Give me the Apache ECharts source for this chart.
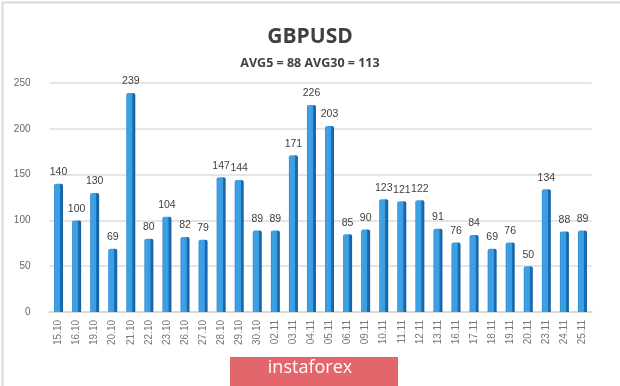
<!DOCTYPE html>
<html><head><meta charset="utf-8">
<script src="https://cdn.jsdelivr.net/npm/echarts@6/dist/echarts.min.js"></script>
<style>html,body{margin:0;padding:0;background:#fff}#c{width:620px;height:386px}</style>
</head><body><div id="c"></div>
<script>
const categories = ['15.10','16.10','19.10','20.10','21.10','22.10','23.10','26.10','27.10','28.10','29.10','30.10','02.11','03.11','04.11','05.11','06.11','09.11','10.11','11.11','12.11','13.11','16.11','17.11','18.11','19.11','20.11','23.11','24.11','25.11'];
const values = [140,100,130,69,239,80,104,82,79,147,144,89,89,171,226,203,85,90,123,121,122,91,76,84,69,76,50,134,88,89];
const yTicks = [0,50,100,150,200,250];
const titleText = 'GBPUSD';
const subtitleText = 'AVG5 = 88 AVG30 = 113';
const badgeText = 'instaforex';

const chart = echarts.init(document.getElementById('c'));
chart.setOption({
  backgroundColor: '#fff',
  animation: false,
  title: {
    text: titleText, subtext: subtitleText, left: 'center', top: 22, itemGap: 9,
    textStyle: {fontFamily: 'Open Sans', fontSize: 21, fontWeight: 'bold', color: '#404040'},
    subtextStyle: {fontFamily: 'Open Sans', fontSize: 12.5, fontWeight: 'bold', color: '#404040'}
  },
  grid: {left: 49.5, right: 28.5, top: 83, bottom: 74, containLabel: false},
  xAxis: {
    type: 'category', data: categories,
    axisLine: {show: true, lineStyle: {color: '#d9d9d9', width: 2}},
    axisTick: {show: false},
    axisLabel: {rotate: 90, interval: 0, color: '#777', fontFamily: 'Liberation Sans', fontSize: 10, margin: 8}
  },
  yAxis: {
    type: 'value', min: 0, max: 250, interval: 50,
    axisLine: {show: false}, axisTick: {show: false},
    axisLabel: {color: '#666', fontFamily: 'Liberation Sans', fontSize: 10, margin: 19,
      formatter: v => yTicks.includes(v) ? String(v) : ''},
    splitLine: {lineStyle: {color: '#dcdcdc', width: 1.5}}
  },
  series: [{
    type: 'bar', data: values, barWidth: 9,
    itemStyle: {
      color: new echarts.graphic.LinearGradient(0, 0, 1, 0, [
        {offset: 0, color: '#2a86cf'},
        {offset: 0.15, color: '#3fa2e6'},
        {offset: 0.65, color: '#3a9de2'},
        {offset: 0.7, color: '#1c6fb4'},
        {offset: 1, color: '#165e9c'}
      ]),
      borderRadius: [2, 2, 0, 0]
    },
    label: {show: true, position: 'top', distance: 6, color: '#404040', fontFamily: 'Liberation Sans', fontSize: 10.5}
  }],
  graphic: [
    {type: 'rect', left: 0, top: 0, shape: {width: 619, height: 385}, style: {fill: 'none', stroke: '#d8d8d8', lineWidth: 2}, silent: true},
    {type: 'rect', left: 230, top: 357, shape: {width: 168, height: 29}, style: {fill: '#e2666c'}},
    {type: 'text', left: 'center', top: 359, style: {text: badgeText, fill: '#fff', fontFamily: 'Open Sans', fontSize: 18}}
  ]
});
</script></body></html>
